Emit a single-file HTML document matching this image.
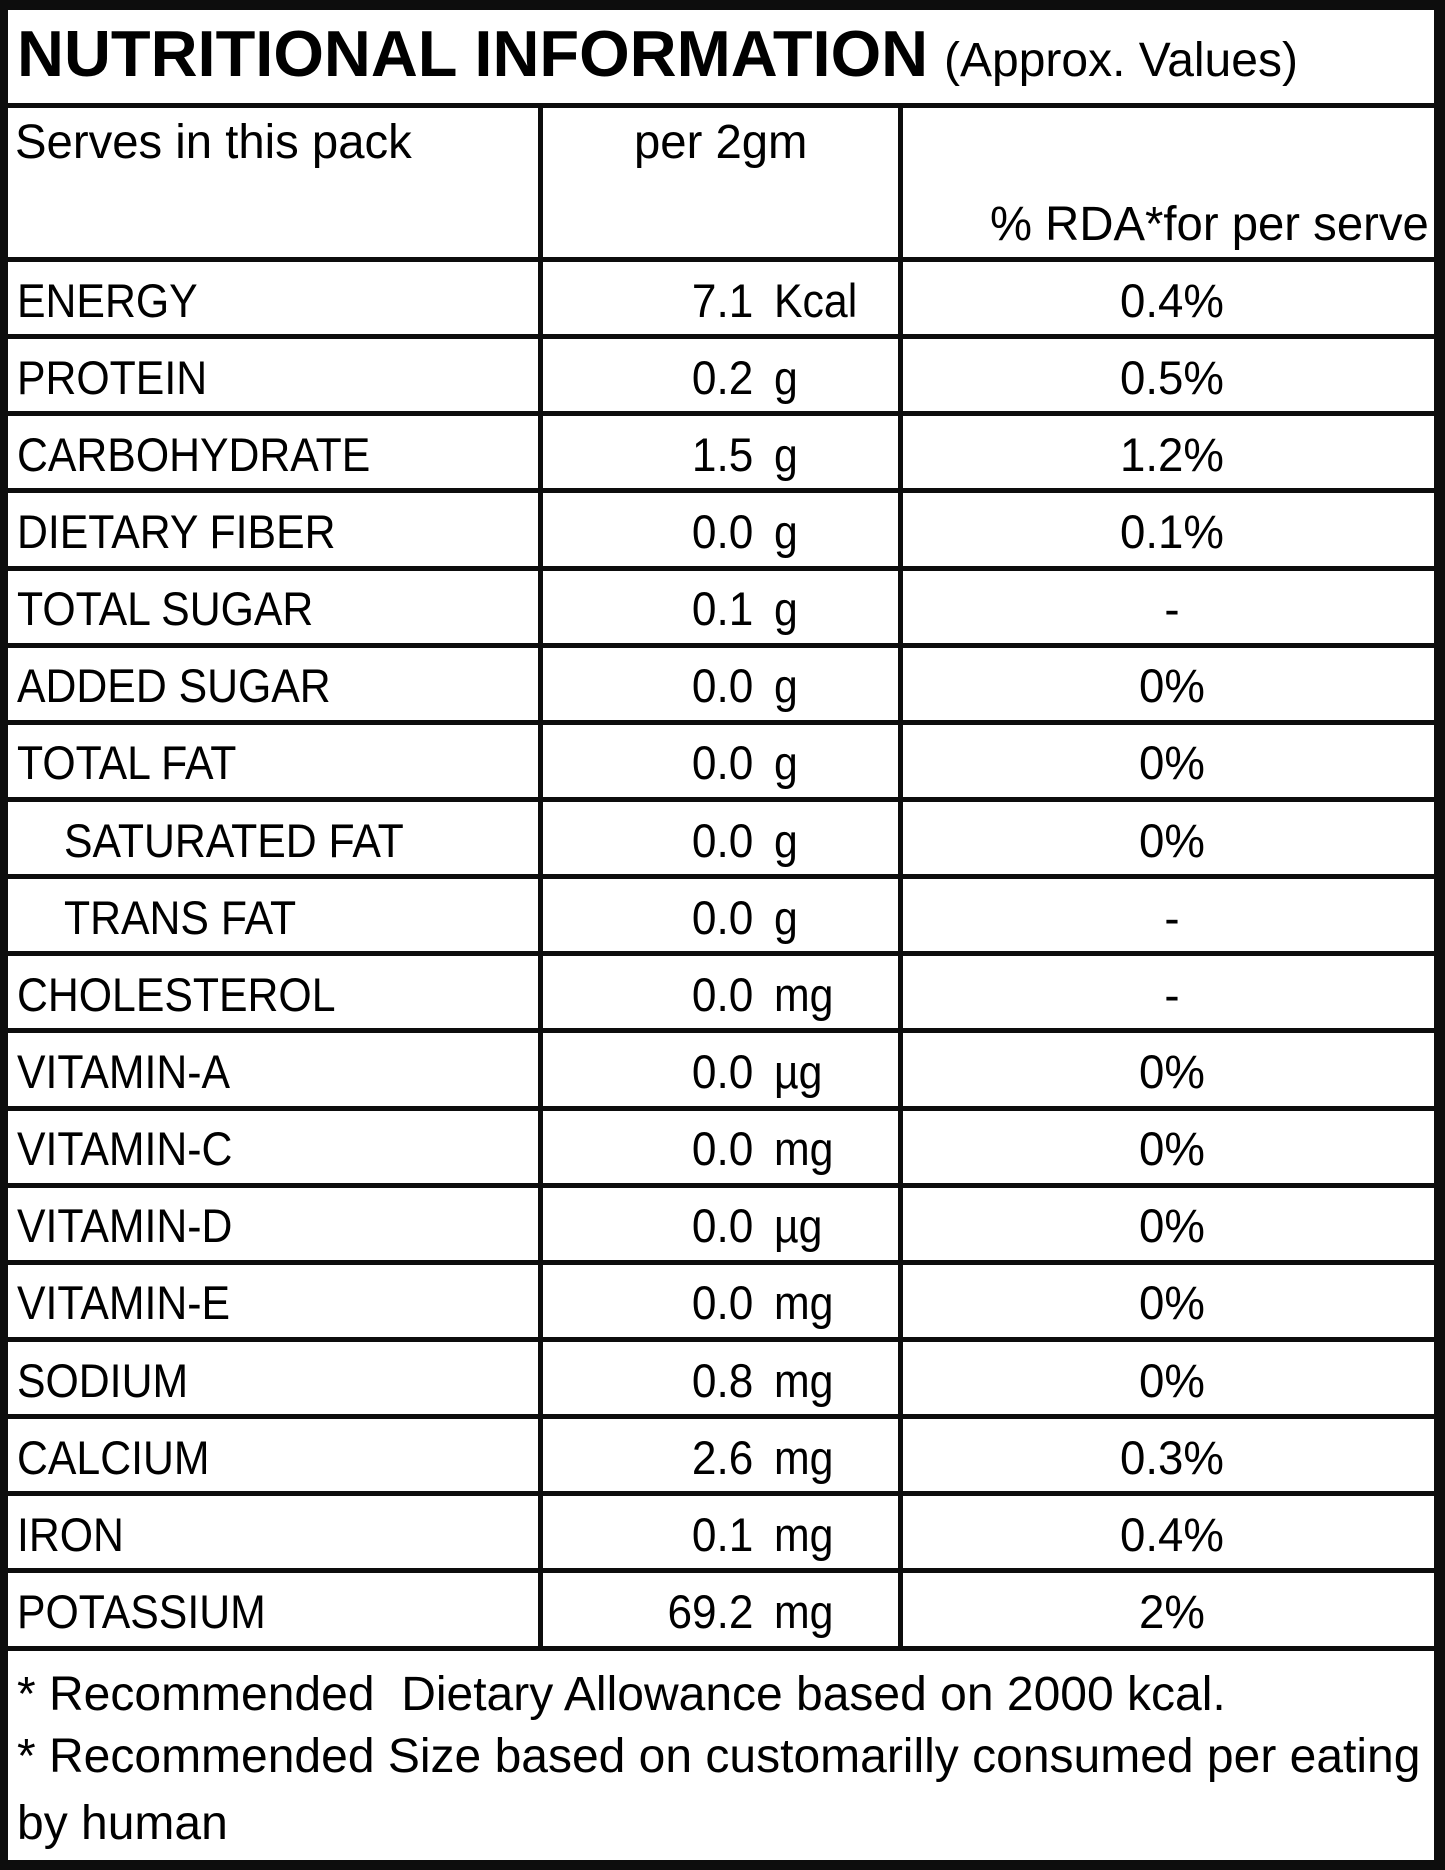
<!DOCTYPE html>
<html><head><meta charset="utf-8"><style>
html,body{margin:0;padding:0;background:#fff;}
#c{position:relative;width:1445px;height:1870px;overflow:hidden;background:#fff;font-family:"Liberation Sans",sans-serif;color:#000;}
.l{position:absolute;background:#0d0d0d;}
.t{position:absolute;white-space:nowrap;font-size:47px;line-height:1;}
.L{transform:scaleX(.91);transform-origin:left bottom;}
.R{transform:scaleX(.94);transform-origin:right bottom;text-align:right;}
.C{transform:scaleX(.97);transform-origin:center bottom;text-align:center;width:400px;}
.H{font-size:48px;transform:scaleX(.985);transform-origin:left bottom;}
.F{font-size:48px;transform:scaleX(1.0);transform-origin:left bottom;}
</style></head><body><div id="c">
<div class="l" style="left:0;top:0;width:1445px;height:10px"></div>
<div class="l" style="left:0;top:1860px;width:1445px;height:10px"></div>
<div class="l" style="left:0;top:0;width:8px;height:1870px"></div>
<div class="l" style="left:1434px;top:0;width:11px;height:1870px"></div>
<div class="l" style="left:0;top:103px;width:1445px;height:5px"></div>
<div class="l" style="left:538px;top:103px;width:5px;height:1548px"></div>
<div class="l" style="left:898px;top:103px;width:5px;height:1548px"></div>
<div class="t" style="left:17px;top:21px;font-size:65px;font-weight:bold;transform:scaleX(1.0);transform-origin:left bottom">NUTRITIONAL INFORMATION</div>
<div class="t" style="left:944px;top:37px;font-size:48px">(Approx. Values)</div>
<div class="t H" style="left:15px;top:119px">Serves in this pack</div>
<div class="t H" style="left:634px;top:119px">per 2gm</div>
<div class="t H" style="left:990px;top:201px">% RDA*for per serve</div>
<div id="rows"></div>
<div class="t F" style="left:17px;top:1671px">* Recommended&nbsp; Dietary Allowance based on 2000 kcal.</div>
<div class="t F" style="left:17px;top:1733px">* Recommended Size based on customarilly consumed per eating</div>
<div class="t F" style="left:17px;top:1800px">by human</div>
<script>
var d=[["ENERGY","7.1","Kcal","0.4%"],["PROTEIN","0.2","g","0.5%"],["CARBOHYDRATE","1.5","g","1.2%"],["DIETARY FIBER","0.0","g","0.1%"],["TOTAL SUGAR","0.1","g","-"],["ADDED SUGAR","0.0","g","0%"],["TOTAL FAT","0.0","g","0%"],["  SATURATED FAT","0.0","g","0%"],["  TRANS FAT","0.0","g","-"],["CHOLESTEROL","0.0","mg","-"],["VITAMIN-A","0.0","µg","0%"],["VITAMIN-C","0.0","mg","0%"],["VITAMIN-D","0.0","µg","0%"],["VITAMIN-E","0.0","mg","0%"],["SODIUM","0.8","mg","0%"],["CALCIUM","2.6","mg","0.3%"],["IRON","0.1","mg","0.4%"],["POTASSIUM","69.2","mg","2%"]];
var h="";
for(var i=0;i<=18;i++){var y=259.5+77.14*i;h+='<div class="l" style="left:0;top:'+(y-2.5).toFixed(1)+'px;width:1445px;height:5px"></div>';}
for(var i=0;i<18;i++){var y=259.5+77.14*i,b=y+52-35;var r=d[i];var ind=r[0].indexOf("  ")==0;
h+='<div class="t L" style="left:'+(ind?64:17)+'px;top:'+b.toFixed(1)+'px">'+r[0].trim()+'</div>';
h+='<div class="t R" style="right:'+(1445-753)+'px;top:'+b.toFixed(1)+'px">'+r[1]+'</div>';
h+='<div class="t L" style="left:774px;top:'+b.toFixed(1)+'px">'+r[2]+'</div>';
h+='<div class="t C" style="left:972px;top:'+b.toFixed(1)+'px">'+r[3]+'</div>';}
document.getElementById("rows").innerHTML=h;
</script>
</div></body></html>
